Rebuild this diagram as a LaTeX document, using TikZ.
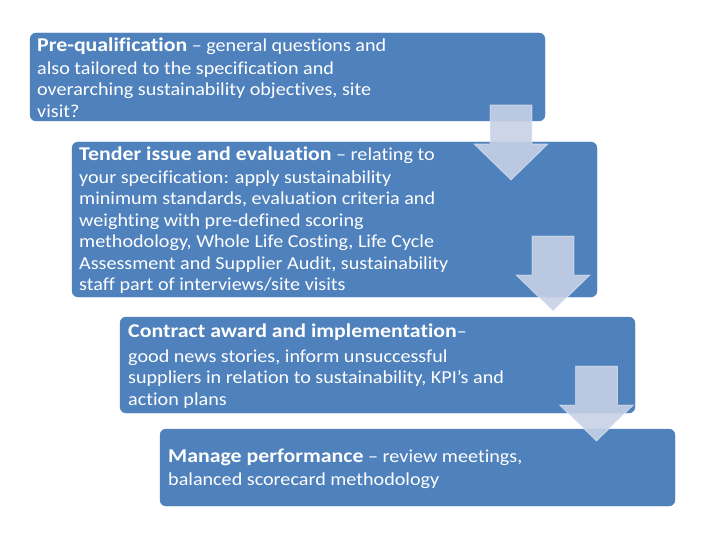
\documentclass[tikz,border=0pt]{standalone}
\usepackage{fontspec}
\setmainfont{Carlito}[FakeStretch=1.10, Ligatures=NoCommon]
\newfontfamily\headfont{Carlito}[FakeStretch=1.12, Ligatures=NoCommon]
\definecolor{boxblue}{RGB}{79,129,189}
\definecolor{arrowfill}{RGB}{198,209,230}
\newcommand{\hd}[1]{{\headfont\bfseries\fontsize{19.5}{21.5}\selectfont #1}}
\tikzset{
  stagebox/.style={fill=boxblue, draw=boxblue, rounded corners=6pt},
  stagetext/.style={anchor=west, align=left, text=white, inner sep=0pt,
    font=\fontsize{18.3}{21.5}\selectfont},
  downarrow/.style={fill=arrowfill, fill opacity=0.9, draw=white, draw opacity=0.45, line width=0.8pt, line join=miter}
}
\newcommand{\downarr}[3]{% name, shaft-centre x, shaft top y
  \path[downarrow] (#2-21,#3) -- (#2+21,#3) -- (#2+21,#3+39) -- (#2+37,#3+39)
    -- (#2,#3+75) -- (#2-37,#3+39) -- (#2-21,#3+39) -- cycle;
  \coordinate (#1-top) at (#2,#3);
  \coordinate (#1-tip) at (#2,#3+75);
}
\begin{document}
\begin{tikzpicture}[x=1pt,y=-1pt]
\useasboundingbox (0,0) rectangle (720,540);
% boxes
\path[stagebox] (30,33) rectangle (545,121);
\node[stagetext] (t1) at (37,77.5) {\hd{Pre-qualification} -- general questions and\\[1.5pt]
also tailored to the specification and\\
overarching sustainability objectives, site\\
visit?};
\path[stagebox] (72,142) rectangle (597,297);
\node[stagetext] (t2) at (79,220) {\hd{Tender issue and evaluation} -- relating to\\[1.5pt]
your specification: apply sustainability\\
minimum standards, evaluation criteria and\\
weighting with pre-defined scoring\\
methodology, Whole Life Costing, Life Cycle\\
Assessment and Supplier Audit, sustainability\\
staff part of interviews/site visits};
\path[stagebox] (120,317) rectangle (635,413);
\node[stagetext] (t3) at (128,366) {\hd{Contract award and implementation}--\\[3.5pt]
good news stories, inform unsuccessful\\
suppliers in relation to sustainability, KPI’s and\\
action plans};
\path[stagebox] (160,429) rectangle (675,506);
\node[stagetext] (t4) at (168,468.5) {\hd{Manage performance} -- review meetings,\\[1.5pt]
balanced scorecard methodology};
% arrows
\downarr{a1}{511}{105}
\downarr{a2}{553}{236}
\downarr{a3}{596.5}{366}
\end{tikzpicture}
\end{document}
